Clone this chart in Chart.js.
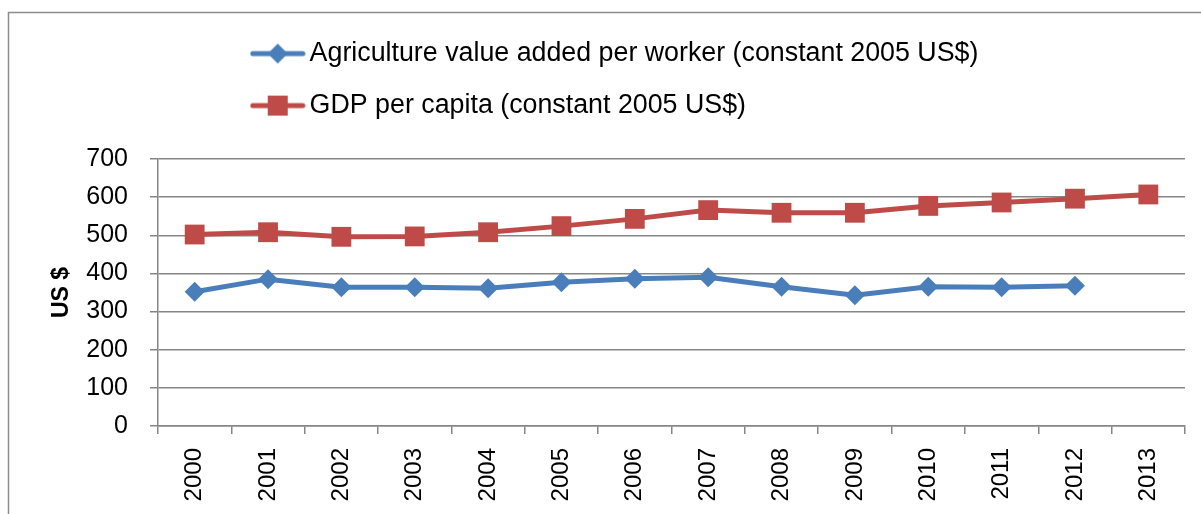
<!DOCTYPE html>
<html>
<head>
<meta charset="utf-8">
<script src="https://cdn.jsdelivr.net/npm/chart.js@4/dist/chart.umd.min.js"></script>
<style>
  html, body { margin: 0; padding: 0; background: #fff; }
</style>
</head>
<body>
<canvas id="chart" width="1201" height="514"></canvas>
<script>
// data
const years = ['2000', '2001', '2002', '2003', '2004', '2005', '2006',
               '2007', '2008', '2009', '2010', '2011', '2012', '2013'];
const agriValues = [352, 385, 364, 364, 361, 377, 386, 390, 365, 343, 365, 364, 368, null];
const gdpValues = [502, 508, 496, 497, 508, 524, 543, 566, 559, 559, 577, 586, 596, 607];
const agriLabel = 'Agriculture value added per worker (constant 2005 US$)';
const gdpLabel = 'GDP per capita (constant 2005 US$)';
const yMin = 0, yMax = 700, yStep = 100;

const FONT = '"Liberation Sans", Arial, sans-serif';
const BLUE = '#4A7EBB';
const RED = '#BE4B48';
const GRID = '#868686';

// little line + marker picture for the legend, Excel style
function legendMarker(color, shape) {
  const c = document.createElement('canvas');
  c.width = 56; c.height = 30;
  const g = c.getContext('2d');
  g.strokeStyle = color;
  g.lineWidth = 5;
  g.lineCap = 'round';
  g.beginPath(); g.moveTo(3, 15); g.lineTo(53, 15); g.stroke();
  g.fillStyle = color;
  if (shape === 'diamond') {
    g.beginPath();
    g.moveTo(28, 5); g.lineTo(38, 15); g.lineTo(28, 25); g.lineTo(18, 15);
    g.closePath(); g.fill();
  } else {
    g.fillRect(18, 5, 20, 20);
  }
  return c;
}
const markers = [legendMarker(BLUE, 'diamond'), legendMarker(RED, 'square')];

// outer frame of the chart object
const framePlugin = {
  id: 'frame',
  beforeDraw(chart) {
    const ctx = chart.ctx;
    ctx.save();
    ctx.strokeStyle = '#8c8c8c';
    ctx.lineWidth = 1.5;
    ctx.strokeRect(8.5, 12.5, 1400, 700);
    ctx.restore();
  }
};

// move the (wrapped) legend to where Excel put it
const legendShift = {
  id: 'legendShift',
  afterLayout(chart) {
    chart.legend.left = 234;
    chart.legend.top = 15;
  }
};

new Chart(document.getElementById('chart'), {
  type: 'line',
  data: {
    labels: years,
    datasets: [{
      label: agriLabel,
      data: agriValues,
      borderColor: BLUE,
      backgroundColor: BLUE,
      borderWidth: 5,
      pointStyle: 'rectRot',
      pointRadius: 10,
      pointBorderWidth: 0,
      tension: 0
    }, {
      label: gdpLabel,
      data: gdpValues,
      borderColor: RED,
      backgroundColor: RED,
      borderWidth: 5,
      pointStyle: 'rect',
      pointRadius: 14,
      pointBorderWidth: 0,
      tension: 0
    }]
  },
  options: {
    responsive: false,
    animation: false,
    layout: { padding: { top: 45, left: 8, right: 16, bottom: 0 } },
    plugins: {
      tooltip: { enabled: false },
      legend: {
        position: 'top',
        align: 'start',
        labels: {
          color: '#000',
          font: { family: FONT, size: 26.8 },
          usePointStyle: true,
          pointStyleWidth: 37,
          padding: 25.2,
          generateLabels(chart) {
            return chart.data.datasets.map((ds, i) => ({
              text: ds.label,
              pointStyle: markers[i],
              fillStyle: ds.borderColor,
              strokeStyle: ds.borderColor,
              lineWidth: 0,
              hidden: false,
              datasetIndex: i
            }));
          }
        }
      }
    },
    scales: {
      x: {
        offset: true,
        grid: { offset: true, drawOnChartArea: false, tickLength: 8, color: GRID, lineWidth: 1.5 },
        border: { color: GRID, width: 1.5 },
        ticks: { minRotation: 90, maxRotation: 90, autoSkip: false, padding: 14, color: '#000',
                 font: { family: FONT, size: 24 } },
        afterFit(scale) { scale.height = 88; }
      },
      y: {
        min: yMin,
        max: yMax,
        grid: { color: GRID, lineWidth: 1.5, tickLength: 8 },
        border: { color: GRID, width: 1.5 },
        ticks: { stepSize: yStep, padding: 22, color: '#000', font: { family: FONT, size: 25 } },
        title: { display: true, text: 'US $', color: '#000', padding: { top: 40 },
                 font: { family: FONT, size: 23, weight: 'bold' } },
        afterFit(scale) { scale.width = 150; }
      }
    }
  },
  plugins: [framePlugin, legendShift]
});
</script>
</body>
</html>
